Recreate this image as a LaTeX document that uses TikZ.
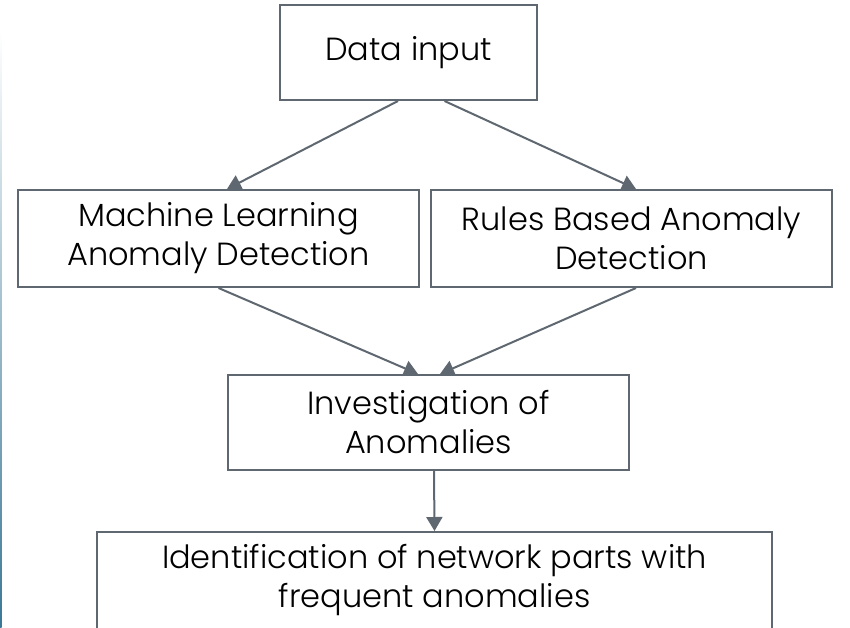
\documentclass[tikz,border=0pt]{standalone}
\usepackage{fontspec}
\setmainfont{Poppins Light}
\usetikzlibrary{arrows.meta}
\definecolor{boxline}{HTML}{5F6870}
\definecolor{edgeblue}{HTML}{3A7896}
\tikzset{
  flowbox/.style={draw=boxline, line width=2pt, fill=white, align=center,
    inner sep=0pt, font=\fontsize{32}{39}\selectfont, text=black},
  flowarrow/.style={draw=boxline, line width=2pt,
    -{Triangle[length=14pt,width=16pt]}}
}
\begin{document}
\begin{tikzpicture}[x=1pt,y=-1pt]
\useasboundingbox (0,0) rectangle (850,627);
\fill[white] (0,0) rectangle (850,627);
\shade[top color=white, bottom color=edgeblue] (0,30) rectangle (1.6,627);
\node[flowbox, minimum width=257pt, minimum height=95pt] (din) at (408.5,52.5) {Data input};
\node[flowbox, minimum width=401pt, minimum height=97pt] (ml) at (218.5,238.5) {Machine Learning\\Anomaly Detection};
\node[flowbox, minimum width=401pt, minimum height=97pt] (rb) at (631.5,238.5) {Rules Based Anomaly\\Detection};
\node[flowbox, minimum width=401pt, minimum height=95pt] (inv) at (428.5,422.5) {Investigation of\\Anomalies};
\node[flowbox, minimum width=675pt, minimum height=97pt] (idn) at (434.5,580.5) {Identification of network parts with\\frequent anomalies};
\draw[flowarrow] ([xshift=-10.5pt]din.south) -- ([xshift=8.5pt]ml.north);
\draw[flowarrow] ([xshift=36pt]din.south) -- ([xshift=4.5pt]rb.north);
\draw[flowarrow] (ml.south) -- ([xshift=-10.5pt]inv.north);
\draw[flowarrow] ([xshift=4.5pt]rb.south) -- ([xshift=11.5pt]inv.north);
\draw[flowarrow] ([xshift=5.5pt]inv.south) -- (idn.north);
\end{tikzpicture}
\end{document}
